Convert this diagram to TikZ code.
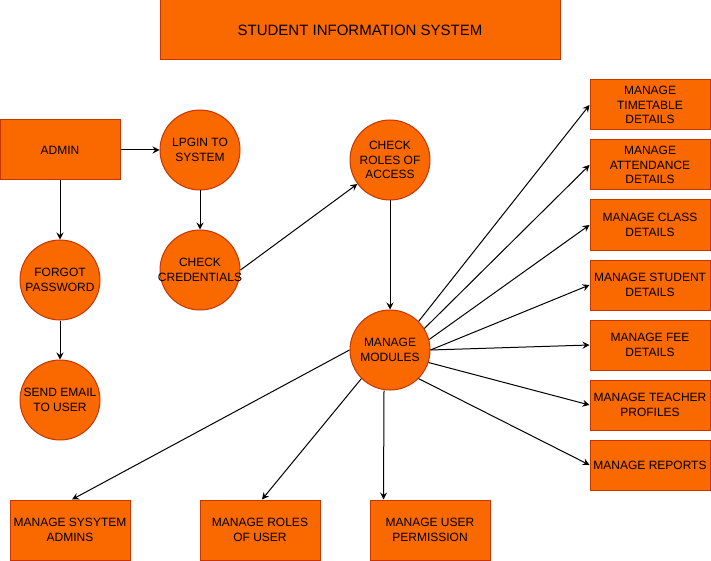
\documentclass[tikz,border=0pt]{standalone}
\usepackage{fontspec}
\setmainfont{Liberation Sans}
\usetikzlibrary{arrows.meta}
\definecolor{boxfill}{HTML}{FA6800}
\definecolor{boxline}{HTML}{C73500}
\tikzset{
  base/.style={fill=boxfill, draw=boxline, line width=1pt, text=black,
    font=\fontsize{12}{14.4}\selectfont, align=center, inner sep=0pt},
  proc/.style={base, rectangle, minimum width=120pt, minimum height=50pt},
  tall/.style={base, rectangle, minimum width=120pt, minimum height=60pt},
  bubble/.style={base, circle, minimum size=80pt},
  flow/.style={line width=1pt, -{Stealth[length=7pt,width=7pt,inset=2.5pt]}},
}
\begin{document}
\begin{tikzpicture}[x=1pt, y=-1pt]
  \useasboundingbox (0,0) rectangle (711,561);

  % title banner
  \node[base, rectangle, minimum width=400pt, minimum height=60pt,
        font=\fontsize{15}{18}\selectfont] (title) at (360,30) {STUDENT INFORMATION SYSTEM};

  % login path
  \node[tall] (admin) at (60,150) {ADMIN};
  \node[bubble] (login) at (200,150) {LPGIN TO\\SYSTEM};
  % the long word spills over the circle edge instead of widening it
  \node[bubble] (cred) at (200,270) {\makebox[56pt]{CHECK}\\\makebox[56pt]{CREDENTIALS}};
  \node[bubble] (forgot) at (60,280) {FORGOT\\PASSWORD};
  \node[bubble] (email) at (60,400) {SEND EMAIL\\TO USER};
  \node[bubble] (roles) at (390,160) {CHECK\\ROLES OF\\ACCESS};
  \node[bubble] (mm) at (390,350) {MANAGE\\MODULES};

  % module boxes on the right
  \node[proc] (tt) at (650,105) {MANAGE\\TIMETABLE\\DETAILS};
  \node[proc] (att) at (650,165) {MANAGE\\ATTENDANCE\\DETAILS};
  \node[proc] (cls) at (650,225) {MANAGE CLASS\\DETAILS};
  \node[proc] (stu) at (650,285) {MANAGE STUDENT\\DETAILS};
  \node[proc] (fee) at (650,345) {MANAGE FEE\\DETAILS};
  \node[proc] (tch) at (650,405) {MANAGE TEACHER\\PROFILES};
  \node[proc] (rep) at (650,465) {MANAGE REPORTS};

  % module boxes along the bottom
  \node[tall] (sysadm) at (70,530) {MANAGE SYSYTEM\\ADMINS};
  \node[tall] (urole) at (260,530) {MANAGE ROLES\\OF USER};
  \node[tall] (uperm) at (430,530) {MANAGE USER\\PERMISSION};

  % connectors
  \draw[flow] (admin) -- (login);
  \draw[flow] (admin) -- (forgot);
  \draw[flow] (forgot) -- (email);
  \draw[flow] (login) -- (cred);
  \draw[flow] (cred.east) -- (roles);
  \draw[flow] (roles) -- (mm);

  \draw[flow] (mm.45) -- (tt.west);
  \draw[flow] (mm.32) -- (att.west);
  \draw[flow] (mm.15) -- (cls.west);
  \draw[flow] (mm.0) -- (stu.west);
  \draw[flow] (mm.0) -- (fee.west);
  \draw[flow] (mm.-18) -- (tch.west);
  \draw[flow] (mm.-45) -- (rep.west);

  \draw[flow] (mm.west) -- ([xshift=2pt]sysadm.north);
  \draw[flow] (mm.south west) -- ([xshift=2pt]urole.north);
  \draw[flow] ([xshift=-6pt]mm.south) -- ([xshift=14pt]uperm.north west);
\end{tikzpicture}
\end{document}
